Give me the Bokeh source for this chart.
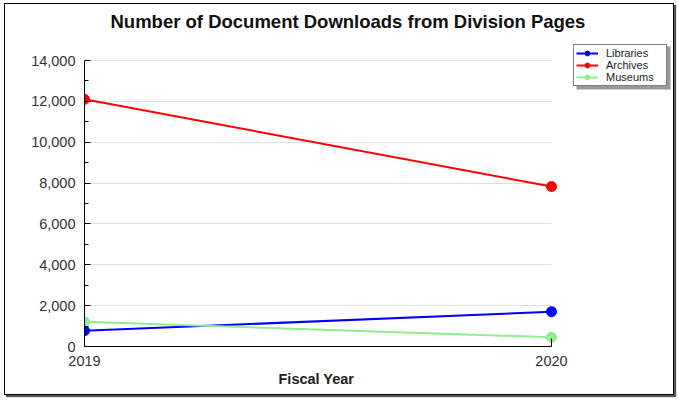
from bokeh.plotting import figure
from bokeh.models import (Legend, LegendItem, FixedTicker, NumeralTickFormatter,
                          Range1d, Title, BoxAnnotation, Label)
from bokeh.embed import file_html
from bokeh.resources import INLINE

years = [2019, 2020]
libraries = [770, 1700]
archives = [12100, 7830]
museums = [1210, 450]

series_names = ["Libraries", "Archives", "Museums"]
series_values = [libraries, archives, museums]
series_colors = ["#0000FF", "#FF0000", "#90EE90"]
y_ticks = [0, 2000, 4000, 6000, 8000, 10000, 12000, 14000]
y_minor = [1000, 3000, 5000, 7000, 9000, 11000, 13000]
title_text = "Number of Document Downloads from Division Pages"

# layout (pixels)
W, H = 670, 392
left, top, right_pad = 79, 0, 2
frame_h = 342
bottom = H - top - frame_h
frame_w = W - left - right_pad
data_w = 467          # pixel width between 2019 and 2020
data_h = 286          # pixel height between 0 and 14000
x_end = 2019 + frame_w / data_w
y_end = 14000 * frame_h / data_h

p = figure(width=W, height=H, output_backend="svg", toolbar_location=None,
           x_range=Range1d(2019, x_end), y_range=Range1d(0, y_end),
           min_border_left=left, min_border_top=top, min_border_right=right_pad,
           min_border_bottom=bottom)
p.styles = {"border": "1px solid black", "box-shadow": "2px 2px 1px #555",
            "margin-left": "4px", "margin-top": "3px"}
p.outline_line_color = None
p.background_fill_color = "white"
p.border_fill_color = "white"

title = Label(x=26, y=frame_h - 17, x_units="screen", y_units="screen",
              text=title_text, text_font="Liberation Sans", text_font_size="18.5px",
              text_font_style="bold", text_color="#111111",
              text_baseline="alphabetic", text_align="left")
p.add_layout(title)

items = []
for name, vals, col in zip(series_names, series_values, series_colors):
    r1 = p.line(years, vals, line_color=col, line_width=2)
    r2 = p.scatter(years, vals, marker="circle", size=10, fill_color=col, line_color=col)
    items.append(LegendItem(label=name, renderers=[r1, r2]))

# legend box and its shadow (screen units from the frame's bottom-left)
leg_x, leg_y = 489, 260
leg_w, leg_h = 94, 43
shadow = BoxAnnotation(left=leg_x + 3, right=leg_x + leg_w + 3,
                       bottom=leg_y - 3, top=leg_y + leg_h - 3,
                       left_units="screen", right_units="screen",
                       top_units="screen", bottom_units="screen",
                       fill_color="#999999", fill_alpha=1.0, line_color=None)
p.add_layout(shadow)

legend = Legend(items=items, location=(leg_x, leg_y),
                label_text_font="Liberation Sans", label_text_font_size="11px",
                label_text_color="#222222", label_height=12, glyph_height=12,
                glyph_width=22, label_width=58, spacing=0, padding=2, margin=0,
                label_standoff=8, border_line_color="black", border_line_width=1,
                background_fill_alpha=1.0)
p.add_layout(legend, "center")

p.xaxis.ticker = FixedTicker(ticks=years)
p.xaxis.bounds = (2019, 2020)
p.xaxis.major_label_text_font = "Liberation Sans"
p.xaxis.major_label_text_font_size = "14.5px"
p.xaxis.major_label_text_color = "#333333"
p.xaxis.major_label_standoff = 9
p.xaxis.major_tick_in = 8
p.xaxis.major_tick_out = 0
p.xaxis.minor_tick_line_color = None
p.xaxis.axis_line_color = "black"
p.xaxis.major_tick_line_color = "black"

xlabel = Title(text="Fiscal Year", align="left", offset=194,
               text_font="Liberation Sans", text_font_size="14.5px",
               text_font_style="bold", text_color="#222222", standoff=1)
p.add_layout(xlabel, "below")

p.yaxis.ticker = FixedTicker(ticks=y_ticks, minor_ticks=y_minor)
p.yaxis.bounds = (0, 14000)
p.yaxis.formatter = NumeralTickFormatter(format="0,0")
p.yaxis.major_label_text_font = "Liberation Sans"
p.yaxis.major_label_text_font_size = "14.5px"
p.yaxis.major_label_text_color = "#333333"
p.yaxis.major_label_standoff = 9
p.yaxis.major_tick_in = 6
p.yaxis.major_tick_out = 0
p.yaxis.minor_tick_in = 4
p.yaxis.minor_tick_out = 0
p.yaxis.axis_line_color = "black"
p.yaxis.major_tick_line_color = "black"
p.yaxis.minor_tick_line_color = "black"

p.xgrid.grid_line_color = None
p.ygrid.grid_line_color = "#e0e0e0"
p.ygrid.cross_bounds = (2019, 2020)

open("out.html", "w").write(file_html(p, INLINE))
